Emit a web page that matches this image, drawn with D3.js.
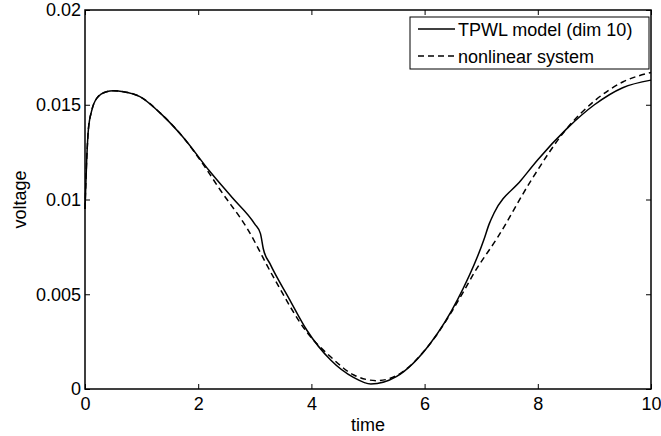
<!DOCTYPE html>
<html><head><meta charset="utf-8">
<script src="https://cdn.jsdelivr.net/npm/d3@7"></script>
<style>body{margin:0;background:#fff}svg{display:block}text{font-family:"Liberation Sans",Arial,sans-serif;fill:#000}</style>
</head><body><svg id="c" width="661" height="436"></svg>
<script>
const xTicks=[0,2,4,6,8,10];
const yTicks=[0,0.005,0.01,0.015,0.02];
const yTickLabels=["0","0.005","0.01","0.015","0.02"];
const tpwlT=[0,0.03,0.06,0.12,0.21,0.38,0.5,0.68,0.97,1.33,1.73,2.2,2.6,3.0,3.1,3.15,3.27,3.6,3.92,4.34,4.75,5.05,5.5,6.1,6.58,7.05,7.14,7.23,7.7,8.0,8.5,9.0,9.5,10];
const tpwlV=[0.0095,0.0121,0.0137,0.0147,0.01535,0.01569,0.01574,0.01569,0.01543,0.01456,0.0133,0.0115,0.0101,0.0087,0.0082,0.0074,0.0066,0.0048,0.0031,0.00153,0.0006,0.00026,0.00065,0.0024,0.0047,0.0079,0.0087,0.0093,0.011,0.0121,0.0137,0.0150,0.0159,0.0163];
const nlT=[0,0.03,0.06,0.12,0.21,0.38,0.5,0.68,0.97,1.33,1.73,2.1,2.39,2.86,3.33,3.92,4.34,4.75,5.16,5.58,6.1,6.7,6.87,7.29,7.88,8.5,9.0,9.5,10];
const nlV=[0.0095,0.0121,0.0137,0.0147,0.01535,0.01569,0.01574,0.01569,0.01543,0.01456,0.0133,0.0118,0.0105,0.0085,0.0059,0.0030,0.0017,0.00074,0.00044,0.00084,0.0024,0.0052,0.0061,0.0080,0.0110,0.0137,0.0152,0.0162,0.0167];
const series=[{name:"TPWL model (dim 10)",t:tpwlT,v:tpwlV,dash:null},{name:"nonlinear system",t:nlT,v:nlV,dash:"6,4"}];

const L=85,R=651,T=10,B=389;
const svg=d3.select("#c");
const x=d3.scaleLinear().domain([0,10]).range([L,R]);
const y=d3.scaleLinear().domain([0,0.02]).range([B,T]);

const line=d3.line().x(d=>x(d[0])).y(d=>y(d[1])).curve(d3.curveMonotoneX);
series.forEach(s=>{
  svg.append("path").attr("d",line(s.t.map((t,i)=>[t,s.v[i]])))
    .attr("fill","none").attr("stroke","#000").attr("stroke-width",1.5)
    .attr("stroke-dasharray",s.dash);
});

const fs=18;
svg.append("g").attr("transform",`translate(0,${B})`).call(d3.axisBottom(x).tickValues(xTicks).tickSize(-5).tickPadding(8).tickFormat(d3.format("d")));
svg.append("g").attr("transform",`translate(0,${T})`).call(d3.axisTop(x).tickValues(xTicks).tickSize(-5).tickFormat(""));
svg.append("g").attr("transform",`translate(${L},0)`).call(d3.axisLeft(y).tickValues(yTicks).tickSize(-5).tickPadding(4).tickFormat((d,i)=>yTickLabels[i]));
svg.append("g").attr("transform",`translate(${R},0)`).call(d3.axisRight(y).tickValues(yTicks).tickSize(-5).tickFormat(""));
svg.selectAll(".domain").remove();
svg.selectAll(".tick line").attr("stroke","#000").attr("stroke-width",1);
svg.selectAll(".tick text").attr("font-size",fs).attr("font-family","Liberation Sans, Arial, sans-serif").attr("fill","#000");
svg.append("rect").attr("x",L).attr("y",T).attr("width",R-L).attr("height",B-T).attr("fill","none").attr("stroke","#000").attr("stroke-width",1.5);

svg.append("text").attr("x",(L+R)/2).attr("y",431).attr("text-anchor","middle").attr("font-size",fs).text("time");
svg.append("text").attr("transform",`translate(26,${(T+B)/2}) rotate(-90)`).attr("text-anchor","middle").attr("font-size",fs).text("voltage");

const lg=svg.append("g");
lg.append("rect").attr("x",410).attr("y",17).attr("width",239).attr("height",52).attr("fill","#fff").attr("stroke","#000").attr("stroke-width",1);
series.forEach((s,i)=>{
  const yy=29+i*27;
  lg.append("line").attr("x1",418).attr("x2",455).attr("y1",yy).attr("y2",yy).attr("stroke","#000").attr("stroke-width",1.5).attr("stroke-dasharray",s.dash);
  lg.append("text").attr("x",458).attr("y",yy+6.5).attr("font-size",fs).text(s.name);
});
</script></body></html>
